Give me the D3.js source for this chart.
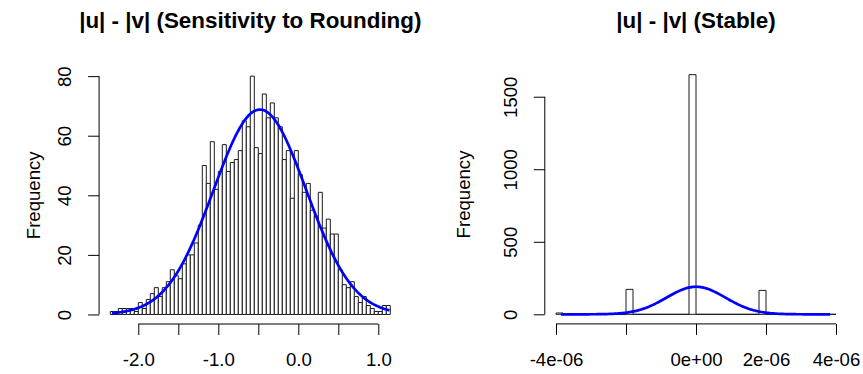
<!DOCTYPE html>
<html>
<head>
<meta charset="utf-8">
<script src="https://cdn.jsdelivr.net/npm/d3@7"></script>
<style>
  html, body { margin: 0; padding: 0; background: #fff; }
  svg { display: block; font-family: "Liberation Sans", Arial, Helvetica, sans-serif; }
</style>
</head>
<body>
<svg id="chart" width="863" height="374"></svg>
<script>
// ---------- data ----------
// Left histogram: |u| - |v| (Sensitivity to Rounding)
const leftBreakStart = -2.35;
const leftBinWidth = 0.05;
const leftCounts = [1,1,2,2,2,2,1,4,2,5, 7,9,6,9,11,15,13,12,17,20,
                    20,24,30,50,44,58,42,48,57,48, 51,52,55,65,63,80,56,54,74,66,
                    71,66,63,52,55,39,55,47,41,44, 35,33,41,29,32,27,27,15,10,9,
                    11,6,4,6,3,2,1,1,3,3];
const leftNormal = { n: 2000, mean: -0.48, sd: 0.58, from: -2.33, to: 1.14 };
const leftXTicks = [-2.0, -1.5, -1.0, -0.5, 0.0, 0.5, 1.0];
const leftXTickLabels = ["-2.0", "", "-1.0", "", "0.0", "", "1.0"];
const leftYTicks = [0, 20, 40, 60, 80];
const leftYTickLabels = ["0", "20", "40", "60", "80"];
const leftTitle = "|u| - |v| (Sensitivity to Rounding)";

// Right histogram: |u| - |v| (Stable)
const rightBreakStart = -4e-6;
const rightBinWidth = 0.2e-6;
const rightCounts = [9,0,0,0,0,0,0,0,0,0, 172,0,0,0,0,0,0,0,0,1652,
                     0,0,0,0,0,0,0,0,0,165, 0,0,0,0,0,0,0,0,0,0];
const rightNormal = { n: 2000, mean: 0, sd: 8.4e-7, from: -3.86e-6, to: 3.83e-6 };
const rightXTicks = [-4e-6, -2e-6, 0, 2e-6, 4e-6];
const rightXTickLabels = ["-4e-06", "", "0e+00", "2e-06", "4e-06"];
const rightYTicks = [0, 500, 1000, 1500];
const rightYTickLabels = ["0", "500", "1000", "1500"];
const rightTitle = "|u| - |v| (Stable)";

const yLabel = "Frequency";

// ---------- layout ----------
const FS = 18.6;
const svg = d3.select("#chart");

function drawPanel(cfg) {
  const g = svg.append("g");
  const x = d3.scaleLinear().domain(cfg.xDomain).range(cfg.xRange);
  const y = d3.scaleLinear().domain(cfg.yDomain).range(cfg.yRange);

  // bars (paths so zero-height bins still show a stroke)
  const bins = cfg.counts.map((c, i) => ({
    x0: cfg.breakStart + i * cfg.binWidth,
    x1: cfg.breakStart + (i + 1) * cfg.binWidth,
    c
  }));
  g.append("g").selectAll("path").data(bins).join("path")
    .attr("d", d => {
      const x0 = x(d.x0), x1 = x(d.x1), y0 = y(0), y1 = y(d.c);
      return `M${x0},${y0}V${y1}H${x1}V${y0}Z`;
    })
    .attr("fill", "#fff")
    .attr("stroke", "#1a1a1a")
    .attr("stroke-width", 1);

  // normal curve
  const nm = cfg.normal;
  const N = 200;
  const pts = d3.range(N + 1).map(k => {
    const xv = nm.from + (nm.to - nm.from) * k / N;
    const z = (xv - nm.mean) / nm.sd;
    const dens = Math.exp(-0.5 * z * z) / (nm.sd * Math.sqrt(2 * Math.PI));
    return [xv, nm.n * cfg.binWidth * dens];
  });
  g.append("path")
    .datum(pts)
    .attr("fill", "none")
    .attr("stroke", "#0000ff")
    .attr("stroke-width", 2.7)
    .attr("d", d3.line().x(d => x(d[0])).y(d => y(d[1])));

  // x axis
  const axisY = cfg.yRange[0];
  const xa = g.append("g").attr("transform", `translate(0,${axisY})`)
    .call(d3.axisBottom(x).tickValues(cfg.xTicks)
      .tickFormat((d, i) => cfg.xTickLabels[i])
      .tickSize(11).tickPadding(18));
  xa.select(".domain").remove();
  xa.append("line")
    .attr("x1", x(cfg.xTicks[0])).attr("x2", x(cfg.xTicks[cfg.xTicks.length - 1]))
    .attr("y1", 0).attr("y2", 0)
    .attr("stroke", "#000");
  xa.selectAll("text").attr("font-size", FS).attr("fill", "#000")
    .attr("font-family", "Liberation Sans, Arial, sans-serif");
  xa.selectAll(".tick line").attr("stroke", "#000");

  // y axis
  const axisX = cfg.xRange[0];
  const ya = g.append("g").attr("transform", `translate(${axisX},0)`)
    .call(d3.axisLeft(y).tickValues(cfg.yTicks)
      .tickFormat((d, i) => cfg.yTickLabels[i])
      .tickSize(11));
  ya.select(".domain").remove();
  ya.append("line")
    .attr("y1", y(cfg.yTicks[0])).attr("y2", y(cfg.yTicks[cfg.yTicks.length - 1]))
    .attr("x1", 0).attr("x2", 0)
    .attr("stroke", "#000");
  ya.selectAll(".tick line").attr("stroke", "#000");
  ya.selectAll("text")
    .attr("x", null).attr("dy", null)
    .attr("transform", "translate(-28,0) rotate(-90)")
    .attr("text-anchor", "middle")
    .attr("font-size", FS).attr("fill", "#000")
    .attr("font-family", "Liberation Sans, Arial, sans-serif");

  // y label
  const cy = (cfg.yRange[0] + cfg.yRange[1]) / 2;
  g.append("text")
    .attr("transform", `translate(${cfg.ylabX},${cy}) rotate(-90)`)
    .attr("text-anchor", "middle")
    .attr("font-size", FS)
    .text(yLabel);

  // title
  g.append("text")
    .attr("x", (cfg.xRange[0] + cfg.xRange[1]) / 2)
    .attr("y", 28)
    .attr("text-anchor", "middle")
    .attr("font-size", 22.4)
    .attr("font-weight", "bold")
    .text(cfg.title);
}

drawPanel({
  counts: leftCounts, breakStart: leftBreakStart, binWidth: leftBinWidth,
  normal: leftNormal,
  xDomain: [-2.49, 1.29], xRange: [99.1, 401.5],
  yDomain: [-3.2, 83.2], yRange: [324, 66.6],
  xTicks: leftXTicks, xTickLabels: leftXTickLabels,
  yTicks: leftYTicks, yTickLabels: leftYTickLabels,
  ylabX: 40, title: leftTitle
});

drawPanel({
  counts: rightCounts, breakStart: rightBreakStart, binWidth: rightBinWidth,
  normal: rightNormal,
  xDomain: [-4.32e-6, 4.32e-6], xRange: [544.8, 847.2],
  yDomain: [-66.08, 1718.08], yRange: [323.9, 65.1],
  xTicks: rightXTicks, xTickLabels: rightXTickLabels,
  yTicks: rightYTicks, yTickLabels: rightYTickLabels,
  ylabX: 470, title: rightTitle
});
</script>
</body>
</html>
